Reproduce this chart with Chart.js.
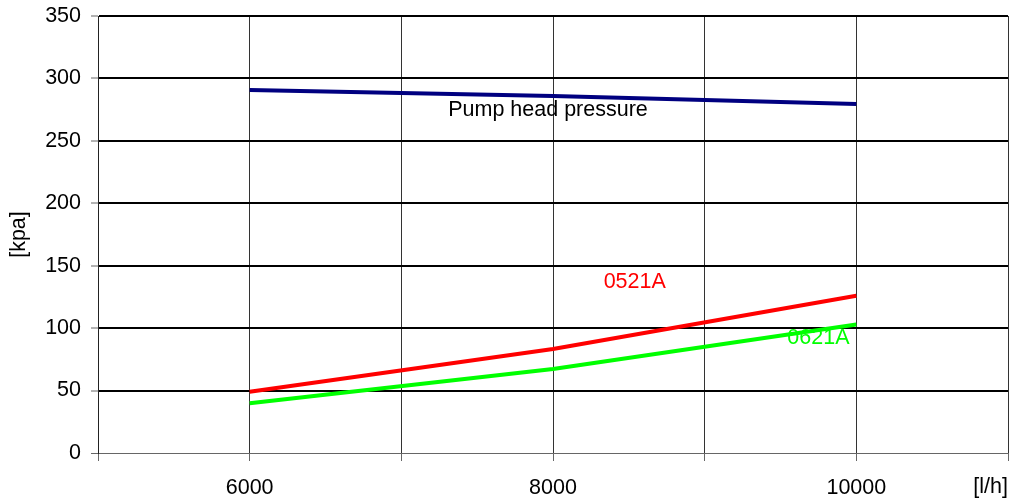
<!DOCTYPE html>
<html>
<head>
<meta charset="utf-8">
<script src="https://cdn.jsdelivr.net/npm/chart.js@4.4.1/dist/chart.umd.min.js"></script>
<style>
  html, body { margin: 0; padding: 0; background: #fff; }
  #wrap { width: 1017px; height: 501px; position: relative; }
</style>
</head>
<body>
<div id="wrap"><canvas id="pumpChart"></canvas></div>
<script>
// flow rates [l/h]
const flow = [6000, 8000, 10000];

// pressures [kpa]
const pumpHead = [290.8, 286, 279.6];
const drop0521A = [49, 83.3, 126];
const drop0621A = [39.8, 67.3, 103];

// text labels placed on the chart (data coords)
const curveLabels = ['Pump head pressure', '0521A', '0621A'];
const curveLabelX = [7967, 8539, 9750];
const curveLabelY = [274.7, 137, 92];
const curveLabelColors = ['#000000', '#ff0000', '#00ff00'];

const FONT = 'Arial, "Liberation Sans", sans-serif';
const FSIZE = 21.5;

const toPoints = (xs, ys) => xs.map((x, i) => ({ x: x, y: ys[i] }));

// draws the in-plot labels and the x unit
const textPlugin = {
    id: 'curveText',
    afterDatasetsDraw(chart) {
        const ctx = chart.ctx;
        const xs = chart.scales.x;
        const ys = chart.scales.y;
        ctx.save();
        ctx.font = FSIZE + 'px ' + FONT;
        ctx.textAlign = 'center';
        ctx.textBaseline = 'middle';
        curveLabels.forEach((t, i) => {
            ctx.fillStyle = curveLabelColors[i];
            ctx.fillText(t, xs.getPixelForValue(curveLabelX[i]), ys.getPixelForValue(curveLabelY[i]));
        });
        // unit on the x axis
        ctx.fillStyle = '#000';
        ctx.textAlign = 'right';
        ctx.fillText('[l/h]', chart.chartArea.right, 487);
        ctx.restore();
    }
};

const ctx = document.getElementById('pumpChart');

new Chart(ctx, {
    type: 'line',
    data: {
        datasets: [{
            label: 'Pump head pressure',
            data: toPoints(flow, pumpHead),
            borderColor: '#000080',
            borderWidth: 4
        }, {
            label: '0521A',
            data: toPoints(flow, drop0521A),
            borderColor: '#ff0000',
            borderWidth: 4
        }, {
            label: '0621A',
            data: toPoints(flow, drop0621A),
            borderColor: '#00ff00',
            borderWidth: 4
        }]
    },
    options: {
        responsive: true,
        maintainAspectRatio: false,
        animation: false,
        elements: {
            point: { radius: 0, hoverRadius: 0 },
            line: { tension: 0, borderCapStyle: 'butt' }
        },
        layout: {
            padding: { top: 16, right: 9, left: 0, bottom: 0 }
        },
        plugins: {
            legend: { display: false },
            tooltip: { enabled: false }
        },
        scales: {
            x: {
                type: 'linear',
                min: 5000,
                max: 11000,
                afterFit: (s) => { s.height = 48; s.paddingLeft = 0; s.paddingRight = 0; },
                ticks: {
                    stepSize: 1000,
                    maxRotation: 0,
                    padding: 14,
                    color: '#000',
                    font: { family: FONT, size: FSIZE },
                    callback: (v) => (v === 6000 || v === 8000 || v === 10000) ? String(v) : ''
                },
                grid: {
                    color: '#333',
                    lineWidth: 1,
                    tickLength: 8,
                    tickColor: '#666'
                },
                border: { color: '#666', width: 1 }
            },
            y: {
                min: 0,
                max: 350,
                afterFit: (s) => { s.width = 98; s.paddingTop = 0; s.paddingBottom = 0; },
                title: {
                    display: true,
                    text: '[kpa]',
                    color: '#000',
                    font: { family: FONT, size: FSIZE },
                    padding: { top: 6, bottom: 0 }
                },
                ticks: {
                    stepSize: 50,
                    padding: 10,
                    color: '#000',
                    font: { family: FONT, size: FSIZE }
                },
                grid: {
                    color: (c) => c.tick && c.tick.value === 0 ? '#666' : '#000',
                    lineWidth: (c) => c.tick && c.tick.value === 0 ? 1 : 2,
                    tickLength: 7,
                    tickColor: '#666',
                    tickWidth: 1
                },
                border: { color: '#222', width: 1 }
            }
        }
    },
    plugins: [textPlugin]
});
</script>
</body>
</html>
